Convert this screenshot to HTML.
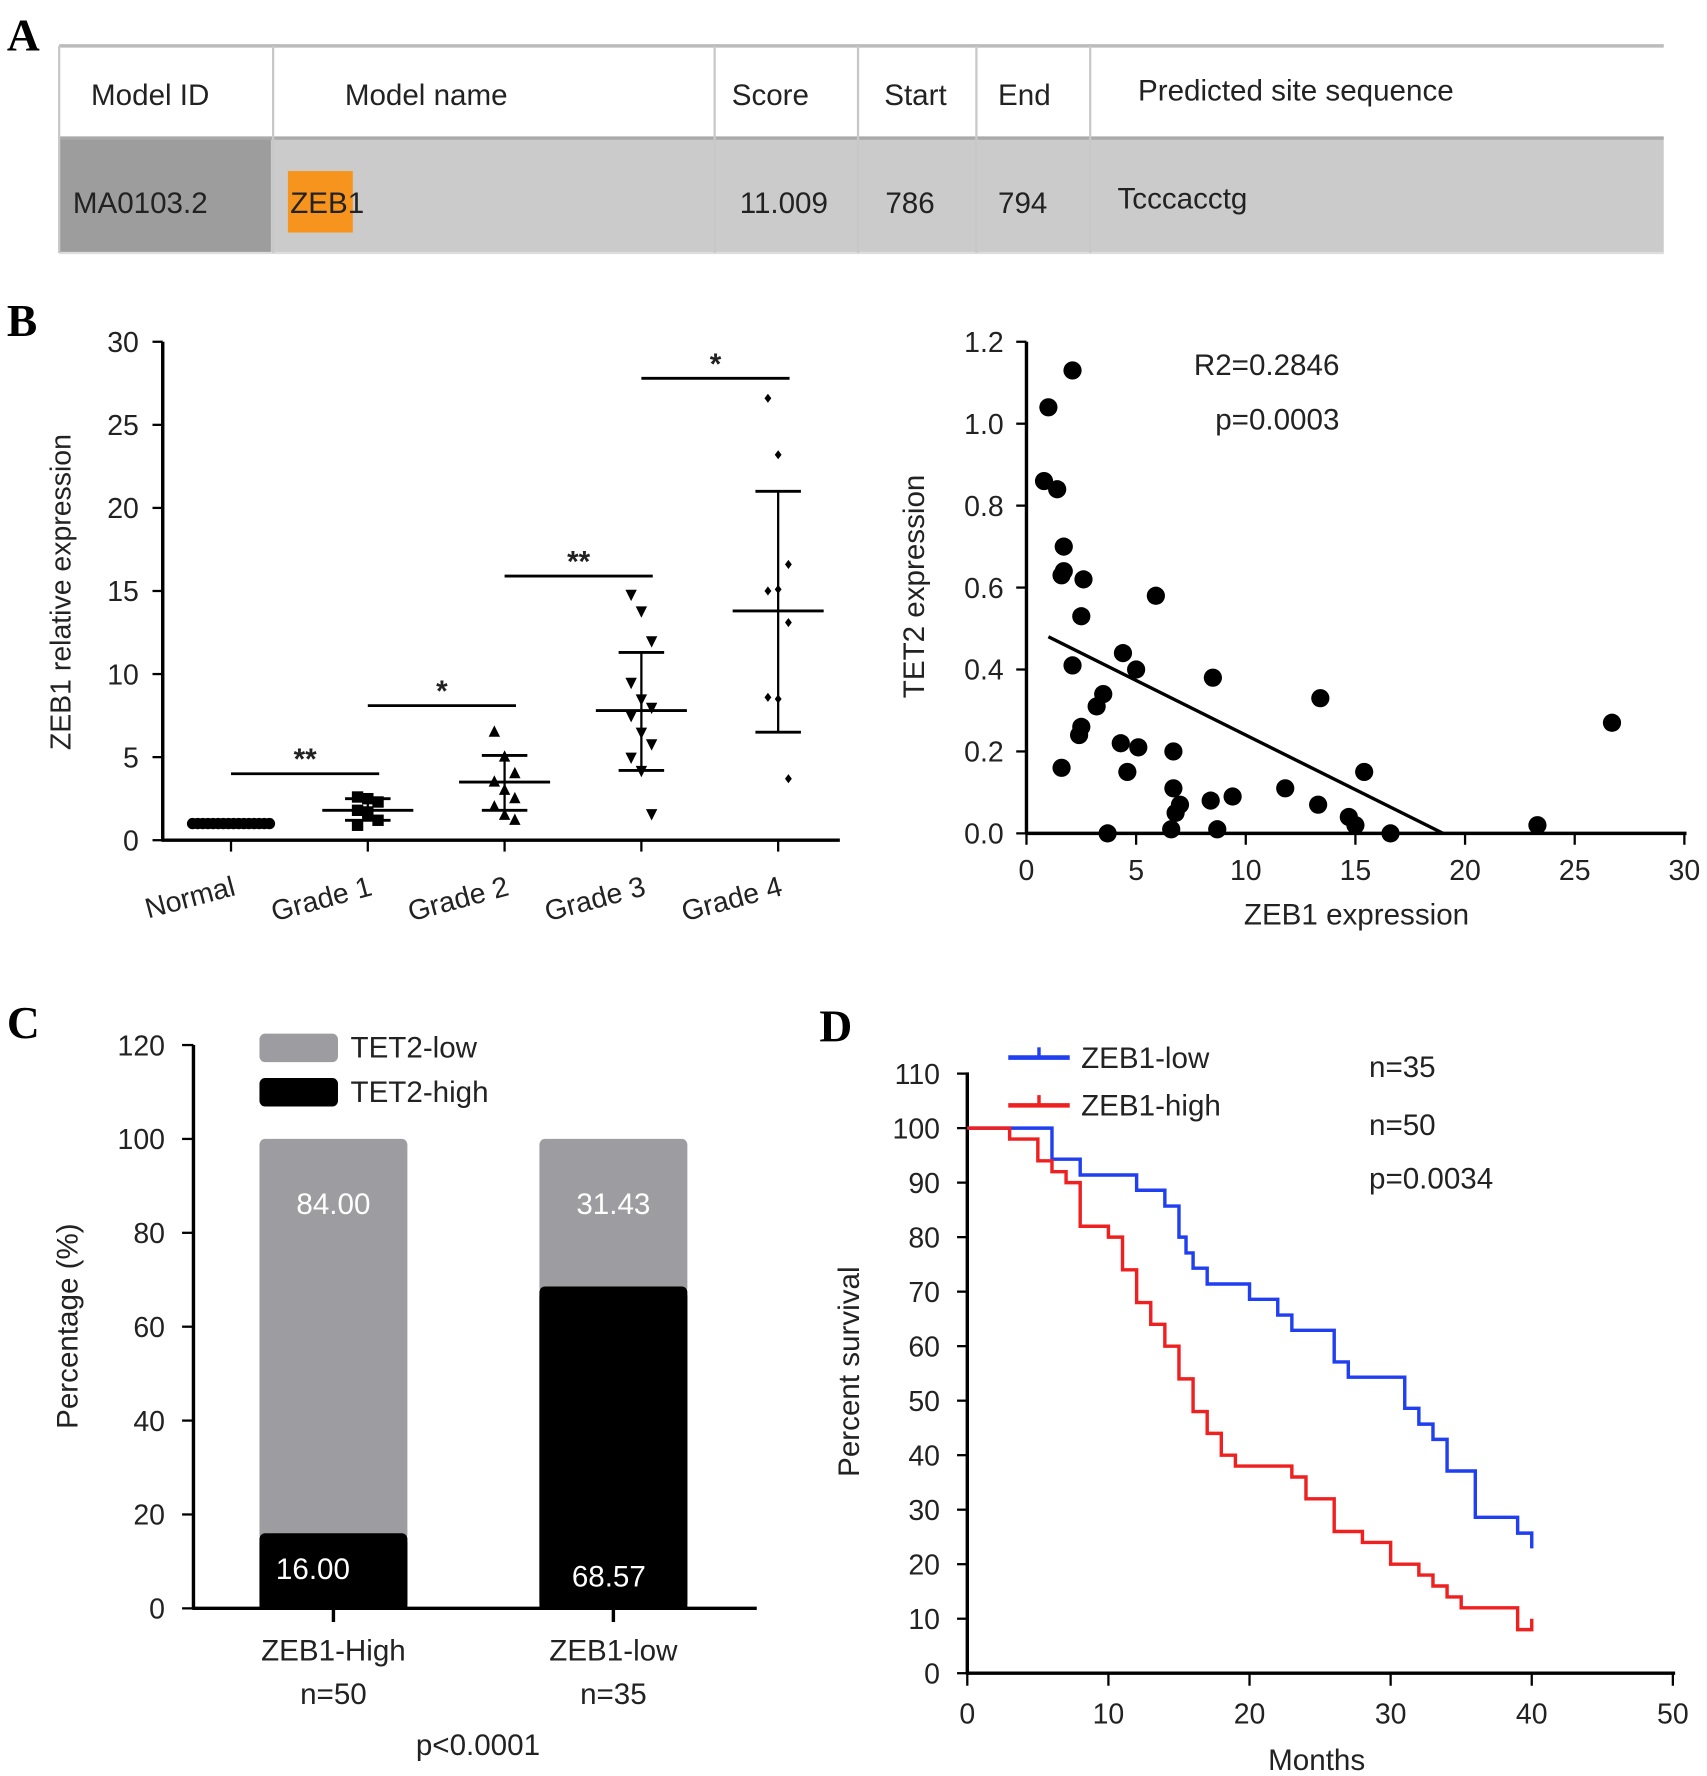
<!DOCTYPE html>
<html><head><meta charset="utf-8"><style>
html,body{margin:0;padding:0;background:#fff}
svg{display:block}
text{font-family:"Liberation Sans",Arial,sans-serif;fill:#222}
.pl{font-family:"Liberation Serif",serif;font-weight:bold;font-size:40px;fill:#000}
.t{font-size:26px}
</style></head><body>
<svg id="fig" width="1707" height="1776" viewBox="0 0 1500 1560" xmlns="http://www.w3.org/2000/svg">
<g>
<text class="pl" x="6" y="44">A</text>
<rect x="52" y="40" width="1410" height="182" fill="#fff"/>
<rect x="52" y="122" width="1410" height="100" fill="#cbcbcb"/>
<rect x="52" y="122" width="186" height="100" fill="#9d9d9d"/>
<line x1="52" y1="40" x2="1462" y2="40" stroke="#bbb" stroke-width="3"/>
<line x1="52" y1="121" x2="1462" y2="121" stroke="#aaa" stroke-width="3"/>
<line x1="52" y1="222" x2="1462" y2="222" stroke="#ddd" stroke-width="2"/>
<g stroke="#c8c8c8" stroke-width="2">
<line x1="52" y1="40" x2="52" y2="222"/><line x1="240" y1="40" x2="240" y2="222"/><line x1="628" y1="40" x2="628" y2="222"/><line x1="754" y1="40" x2="754" y2="222"/><line x1="858" y1="40" x2="858" y2="222"/><line x1="958" y1="40" x2="958" y2="222"/>
</g>
<rect x="253" y="150" width="57" height="54" fill="#f7941d"/>
<g class="t">
<text class="t" x="80" y="92">Model ID</text>
<text class="t" x="303" y="92">Model name</text>
<text class="t" x="643" y="92">Score</text>
<text class="t" x="777" y="92">Start</text>
<text class="t" x="877" y="92">End</text>
<text class="t" x="1000" y="88">Predicted site sequence</text>
<text class="t" x="64" y="187">MA0103.2</text>
<text class="t" x="255" y="187">ZEB1</text>
<text class="t" x="650" y="187">11.009</text>
<text class="t" x="778" y="187">786</text>
<text class="t" x="877" y="187">794</text>
<text class="t" x="982" y="183">Tcccacctg</text>
</g>
</g>
<text class="pl" x="6" y="295">B</text>
<text class="pl" x="6" y="912">C</text>
<text class="pl" x="720" y="915">D</text>
<g id="b1"></g>
<g id="b2"></g>
<g id="c"></g>
<g id="d"></g>
</svg>
<script>
// ---- data ----
const gradeCats=["Normal","Grade 1","Grade 2","Grade 3","Grade 4"];
const gradePts=[
 [1,1,1,1,1,1,1,1,1,1,1,1,1,1,1,1],
 [2.6,2.5,2.3,1.8,1.5,1.2,0.9,1.7],
 [6.5,5.0,4.0,3.5,3.0,2.5,2.0,1.5,1.2],
 [14.8,13.8,12.0,9.5,8.5,8.0,7.5,6.5,5.8,5.0,4.2,1.6],
 [26.6,23.2,16.6,15.0,15.1,13.1,8.6,8.5,3.7]];
const gradeMean=[1.0,1.8,3.5,7.8,13.8];
const gradeUpper=[1.0,2.5,5.1,11.3,21.0];
const gradeLower=[1.0,1.2,1.8,4.2,6.5];
const sigLevels=[4.0,8.1,15.9,27.8];
const sigLabels=["**","*","**","*"];
const gradeTicks=[0,5,10,15,20,25,30];

const scX=[1.0,2.1,0.8,1.4,1.7,1.6,1.7,2.6,2.5,5.9,2.1,4.4,5.0,3.5,3.2,2.5,2.4,8.5,13.4,4.3,5.1,6.7,1.6,4.6,15.4,6.7,11.8,9.4,8.4,7.0,6.8,13.3,14.7,15.0,6.6,8.7,3.7,16.6,23.3,26.7];
const scY=[1.04,1.13,0.86,0.84,0.70,0.63,0.64,0.62,0.53,0.58,0.41,0.44,0.40,0.34,0.31,0.26,0.24,0.38,0.33,0.22,0.21,0.20,0.16,0.15,0.15,0.11,0.11,0.09,0.08,0.07,0.05,0.07,0.04,0.02,0.01,0.01,0.0,0.0,0.02,0.27];
const fitLine=[[1.0,0.48],[19.0,0.0]];
const scXTicks=[0,5,10,15,20,25,30];
const scYTicks=[0,0.2,0.4,0.6,0.8,1.0,1.2];

const barCats=["ZEB1-High","ZEB1-low"];
const barN=["n=50","n=35"];
const tetHigh=[16.00,68.57];
const tetLow=[84.00,31.43];
const barTicks=[0,20,40,60,80,100,120];

const lowT=[0,6,8,12,14,15,15.5,16,17,20,22,23,26,27,31,32,33,34,36,39,40];
const lowS=[100,94.3,91.4,88.6,85.7,80,77.1,74.3,71.4,68.6,65.7,62.9,57.1,54.3,48.6,45.7,42.9,37.1,28.6,25.7,22.9];
const highT=[0,3,5,6,7,8,10,11,12,13,14,15,16,17,18,19,23,24,26,28,30,32,33,34,35,39,40];
const highS=[100,98,94,92,90,82,80,74,68,64,60,54,48,44,40,38,36,32,26,24,20,18,16,14,12,8,10];
const survXTicks=[0,10,20,30,40,50];
const survYTicks=[0,10,20,30,40,50,60,70,80,90,100,110];

const NS="http://www.w3.org/2000/svg";
function mk(parent,tag,attrs,txt){const e=document.createElementNS(NS,tag);for(const k in attrs)e.setAttribute(k,attrs[k]);if(txt!==undefined)e.textContent=txt;parent.appendChild(e);return e;}

// ---- B left ----
(function(){
const g=document.getElementById('b1');
const y=v=>738-v*14.6, x=i=>203+i*120.2;
let e=mk(g,'line',{x1:143,y1:300,x2:143,y2:739,stroke:'#000','stroke-width':3});

e=mk(g,'line',{x1:142,y1:738,x2:738,y2:738,stroke:'#000','stroke-width':3});

gradeTicks.forEach(t=>{mk(g,'line',{x1:134,y1:y(t),x2:143,y2:y(t),stroke:'#000','stroke-width':2});
 e=mk(g,'text',{x:122,y:y(t)+9,'text-anchor':'end','font-size':25},t);
 });
gradeCats.forEach((c,i)=>{mk(g,'line',{x1:x(i),y1:738,x2:x(i),y2:748,stroke:'#000','stroke-width':2});
 e=mk(g,'text',{x:x(i)+5,y:786,'text-anchor':'end','font-size':25,transform:`rotate(-15 ${x(i)+5} 786)`},c);
 });
e=mk(g,'text',{x:62,y:520,'text-anchor':'middle','font-size':25,transform:'rotate(-90 62 520)'},'ZEB1 relative expression');

gradePts.forEach((pts,i)=>{
 pts.forEach((v,j)=>{
  const off=i==0?(j-7.5)*4.5:((j%3)-1)*9;
  const cx=x(i)+off, cy=y(v);
  let m;
  if(i==0)m=mk(g,'circle',{cx,cy,r:5,fill:'#000'});
  else if(i==1)m=mk(g,'rect',{x:cx-5,y:cy-5,width:10,height:10,fill:'#000'});
  else if(i==2)m=mk(g,'path',{d:`M${cx},${cy-6}L${cx+5},${cy+4}L${cx-5},${cy+4}Z`,fill:'#000'});
  else if(i==3)m=mk(g,'path',{d:`M${cx},${cy+6}L${cx+5},${cy-4}L${cx-5},${cy-4}Z`,fill:'#000'});
  else m=mk(g,'path',{d:`M${cx},${cy-4}L${cx+3},${cy}L${cx},${cy+4}L${cx-3},${cy}Z`,fill:'#000'});
  
  
 });
 if(i>0){
  mk(g,'line',{x1:x(i),y1:y(gradeUpper[i]),x2:x(i),y2:y(gradeLower[i]),stroke:'#000','stroke-width':2});
  [gradeUpper[i],gradeLower[i]].forEach(v=>mk(g,'line',{x1:x(i)-20,y1:y(v),x2:x(i)+20,y2:y(v),stroke:'#000','stroke-width':2.5}));
  e=mk(g,'line',{x1:x(i)-40,y1:y(gradeMean[i]),x2:x(i)+40,y2:y(gradeMean[i]),stroke:'#000','stroke-width':2.5});
  
 }
});
sigLevels.forEach((v,i)=>{
 e=mk(g,'line',{x1:x(i),y1:y(v),x2:x(i+1)+10,y2:y(v),stroke:'#000','stroke-width':2.5});
 
 e=mk(g,'text',{x:(x(i)+x(i+1)+10)/2,y:y(v)-4,'text-anchor':'middle','font-size':26,'font-weight':'bold'},sigLabels[i]);
 
});
})();

// ---- B right ----
(function(){
const g=document.getElementById('b2');
const x=v=>902+v*19.27, y=v=>732-v*360;
let e=mk(g,'line',{x1:902,y1:300,x2:902,y2:733,stroke:'#000','stroke-width':3});

e=mk(g,'line',{x1:901,y1:732,x2:1482,y2:732,stroke:'#000','stroke-width':3});

scYTicks.forEach(t=>{mk(g,'line',{x1:893,y1:y(t),x2:902,y2:y(t),stroke:'#000','stroke-width':2});
 e=mk(g,'text',{x:882,y:y(t)+9,'text-anchor':'end','font-size':25},t.toFixed(1));
 });
scXTicks.forEach(t=>{mk(g,'line',{x1:x(t),y1:732,x2:x(t),y2:742,stroke:'#000','stroke-width':2});
 e=mk(g,'text',{x:x(t),y:773,'text-anchor':'middle','font-size':25},t);
 });
e=mk(g,'text',{x:1192,y:812,'text-anchor':'middle','font-size':26},'ZEB1 expression');

e=mk(g,'text',{x:812,y:515,'text-anchor':'middle','font-size':26,transform:'rotate(-90 812 515)'},'TET2 expression');

e=mk(g,'text',{x:1177,y:329,'text-anchor':'end','font-size':26},'R2=0.2846');

e=mk(g,'text',{x:1177,y:377,'text-anchor':'end','font-size':26},'p=0.0003');

scX.forEach((v,i)=>{e=mk(g,'circle',{cx:x(v),cy:y(scY[i]),r:8,fill:'#000'});
 });
e=mk(g,'line',{x1:x(fitLine[0][0]),y1:y(fitLine[0][1]),x2:x(fitLine[1][0]),y2:y(fitLine[1][1]),stroke:'#000','stroke-width':3});

})();

// ---- C ----
(function(){
const g=document.getElementById('c');
const y=v=>1413-v*4.125, cx=[293,539], w=130;
let e=mk(g,'line',{x1:170,y1:918,x2:170,y2:1414,stroke:'#000','stroke-width':3});

barTicks.forEach(t=>{mk(g,'line',{x1:160,y1:y(t),x2:170,y2:y(t),stroke:'#000','stroke-width':2});
 e=mk(g,'text',{x:145,y:y(t)+9,'text-anchor':'end','font-size':25},t);
 });
e=mk(g,'text',{x:68,y:1165,'text-anchor':'middle','font-size':26,transform:'rotate(-90 68 1165)'},'Percentage (%)');

barCats.forEach((c,i)=>{
 const x0=cx[i]-w/2;
 e=mk(g,'rect',{x:x0,y:y(tetHigh[i]+tetLow[i]),width:w,height:tetLow[i]*4.125+6,rx:5,fill:'#9d9da1'});
 
 e=mk(g,'rect',{x:x0,y:y(tetHigh[i]),width:w,height:tetHigh[i]*4.125,rx:5,fill:'#000'});
 
 mk(g,'rect',{x:x0,y:y(tetHigh[i])+8,width:w,height:tetHigh[i]*4.125-8,fill:'#000'});
 e=mk(g,'text',{x:cx[i],y:y(tetHigh[i]+tetLow[i])+66,'text-anchor':'middle','font-size':26,style:'fill:#fff'},tetLow[i].toFixed(2));
 
 e=mk(g,'text',{x:cx[i]-(i?4:18),y:1393-(i?-1:6),'text-anchor':'middle','font-size':26,style:'fill:#fff'},tetHigh[i].toFixed(2));
 
 mk(g,'line',{x1:cx[i],y1:1413,x2:cx[i],y2:1425,stroke:'#000','stroke-width':3});
 e=mk(g,'text',{x:cx[i],y:1459,'text-anchor':'middle','font-size':26},c);
 
 e=mk(g,'text',{x:cx[i],y:1497,'text-anchor':'middle','font-size':26},barN[i]);
 
});
e=mk(g,'line',{x1:169,y1:1413,x2:665,y2:1413,stroke:'#000','stroke-width':3});

e=mk(g,'text',{x:420,y:1542,'text-anchor':'middle','font-size':26},'p<0.0001');

e=mk(g,'rect',{x:228,y:908,width:69,height:25,rx:5,fill:'#9d9da1'});

e=mk(g,'text',{x:308,y:929,'font-size':26},'TET2-low');

e=mk(g,'rect',{x:228,y:947,width:69,height:25,rx:5,fill:'#000'});

e=mk(g,'text',{x:308,y:968,'font-size':26},'TET2-high');

})();

// ---- D ----
(function(){
const g=document.getElementById('d');
const x=v=>850+v*12.4, y=v=>1470-v*4.79;
let e=mk(g,'line',{x1:850,y1:942,x2:850,y2:1471,stroke:'#000','stroke-width':3});

e=mk(g,'line',{x1:849,y1:1470,x2:1472,y2:1470,stroke:'#000','stroke-width':3});

survYTicks.forEach(t=>{mk(g,'line',{x1:841,y1:y(t),x2:850,y2:y(t),stroke:'#000','stroke-width':2});
 e=mk(g,'text',{x:826,y:y(t)+9,'text-anchor':'end','font-size':25},t);
 });
survXTicks.forEach(t=>{mk(g,'line',{x1:x(t),y1:1470,x2:x(t),y2:1481,stroke:'#000','stroke-width':2});
 e=mk(g,'text',{x:x(t),y:1514,'text-anchor':'middle','font-size':25},t);
 });
e=mk(g,'text',{x:1157,y:1555,'text-anchor':'middle','font-size':26},'Months');

e=mk(g,'text',{x:755,y:1205,'text-anchor':'middle','font-size':26,transform:'rotate(-90 755 1205)'},'Percent survival');

function steps(T,S){let d=`M${x(T[0])},${y(S[0])}`;for(let i=1;i<T.length;i++){d+=`H${x(T[i])}V${y(S[i])}`;}return d;}
e=mk(g,'path',{d:steps(lowT,lowS),fill:'none',stroke:'#1f3ff0','stroke-width':3});

e=mk(g,'path',{d:steps(highT,highS),fill:'none',stroke:'#ee2020','stroke-width':3});

e=mk(g,'line',{x1:886,y1:929,x2:940,y2:929,stroke:'#1f3ff0','stroke-width':4});

mk(g,'line',{x1:913,y1:920,x2:913,y2:929,stroke:'#1f3ff0','stroke-width':3});
e=mk(g,'text',{x:950,y:938,'font-size':26},'ZEB1-low');

e=mk(g,'line',{x1:886,y1:971,x2:940,y2:971,stroke:'#ee2020','stroke-width':4});

mk(g,'line',{x1:913,y1:962,x2:913,y2:971,stroke:'#ee2020','stroke-width':3});
e=mk(g,'text',{x:950,y:980,'font-size':26},'ZEB1-high');

[['n=35',946],['n=50',997],['p=0.0034',1044]].forEach(([t,yy])=>{
 e=mk(g,'text',{x:1203,y:yy,'font-size':26},t);
 });
})();
</script>
</body></html>
